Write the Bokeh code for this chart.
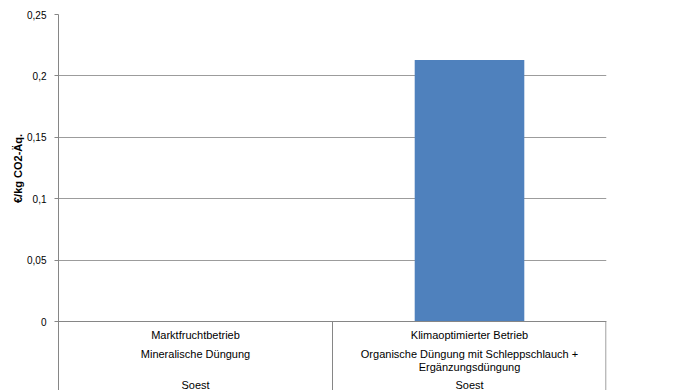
from bokeh.plotting import figure
from bokeh.models import FactorRange, Range1d, FixedTicker, Span, Title
from bokeh.core.properties import value
from bokeh.embed import file_html
from bokeh.resources import INLINE

# ---- data ----
categories = ["Marktfruchtbetrieb", "Klimaoptimierter Betrieb"]
fertilisation = ["Mineralische Düngung",
                 "Organische Düngung mit Schleppschlauch +\nErgänzungsdüngung"]
location = ["Soest", "Soest"]
values = [0.0, 0.213]
y_ticks = [0, 0.05, 0.1, 0.15, 0.2, 0.25]
y_tick_labels = ["0", "0,05", "0,1", "0,15", "0,2", "0,25"]
y_title = "€/kg CO2-Äq."

# ---- layout ----
FONT = "Liberation Sans"
AXIS_COLOR = "#868686"
GRID_COLOR = "#9c9c9c"
W, H = 675, 390
BORDER_L, BORDER_R, BORDER_T, BORDER_B = 58, 69, 14, 0
frame_w = W - BORDER_L - BORDER_R
frame_h = H - BORDER_T - BORDER_B
ymax = y_ticks[-1]
zero_px = 307  # pixels from top of frame to the zero line
px_per_unit = zero_px / ymax
ymin = -(frame_h - zero_px) / px_per_unit

p = figure(width=W, height=H, output_backend="svg", toolbar_location=None,
           x_range=FactorRange(*categories, range_padding=0),
           y_range=Range1d(ymin, ymax), x_axis_location=None,
           min_border_left=BORDER_L, min_border_right=BORDER_R,
           min_border_top=BORDER_T, min_border_bottom=BORDER_B,
           background_fill_color="white", border_fill_color="white")
p.outline_line_color = None
p.xgrid.visible = False

p.yaxis.ticker = FixedTicker(ticks=y_ticks, minor_ticks=[])
p.yaxis.major_label_overrides = {t: l for t, l in zip(y_ticks, y_tick_labels)}
p.yaxis.axis_line_color = AXIS_COLOR
p.yaxis.major_tick_line_color = AXIS_COLOR
p.yaxis.major_tick_out = 4
p.yaxis.major_tick_in = 0
p.yaxis.minor_tick_line_color = None
p.yaxis.major_label_standoff = 8
p.yaxis.major_label_text_font = FONT
p.yaxis.major_label_text_font_size = "10px"
p.yaxis.major_label_text_color = "#000000"
p.ygrid.ticker = FixedTicker(ticks=y_ticks, minor_ticks=[])
p.ygrid.grid_line_color = GRID_COLOR

# bars
p.vbar(x=categories, top=values, width=0.4, color="#4F81BD", line_color=None)

# category axis line and separators
p.add_layout(Span(location=0, dimension="width", line_color=AXIS_COLOR, line_width=1))
sep_x = [i + 1 - 0.002 * (i + 1 == len(categories)) for i in range(len(categories))]
p.segment(x0=sep_x, y0=0, x1=sep_x, y1=ymin, line_color=AXIS_COLOR, line_width=1)

# category labels (three levels)
def off(px):
    return -px / px_per_unit

tx, ty, tt = [], [], []
for c, f, l in zip(categories, fertilisation, location):
    tx.append(c); ty.append(off(13)); tt.append(c)
    for j, part in enumerate(f.split("\n")):
        tx.append(c); ty.append(off(32 + 13.5 * j)); tt.append(part)
    tx.append(c); ty.append(off(63)); tt.append(l)
p.text(x=tx, y=ty, text=tt, text_font=value(FONT), text_font_size="11px",
       text_align="center", text_baseline="middle", text_color="#000000")

# y axis title, centred on the 0..0.25 part of the frame
title_len_px = 70
title_offset = (frame_h - zero_px) + zero_px / 2 - title_len_px / 2
p.add_layout(Title(text=y_title, align="left", offset=title_offset, text_font=FONT,
                   text_font_size="11px", text_font_style="bold",
                   text_color="#000000", standoff=2), "left")

open("out.html", "w").write(file_html(p, INLINE))
